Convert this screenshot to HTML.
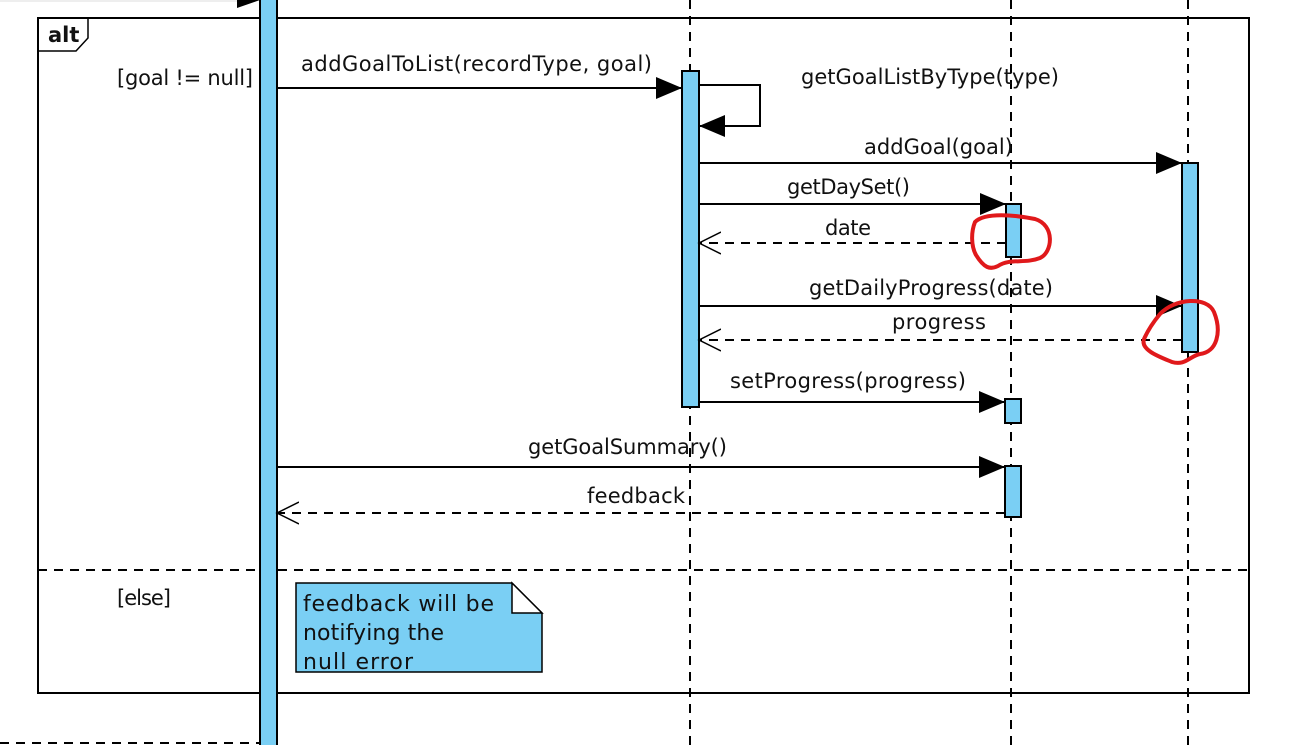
<!DOCTYPE html>
<html><head><meta charset="utf-8"><style>
html,body{margin:0;padding:0;background:#fff;}
svg{display:block;}
text{font-family:"DejaVu Sans","Liberation Sans",sans-serif;font-size:21px;fill:#111;}
</style></head><body>
<svg width="1305" height="745" viewBox="0 0 1305 745" xmlns="http://www.w3.org/2000/svg">
<defs>
<marker id="f" markerWidth="26" markerHeight="22" refX="26" refY="11" orient="auto" markerUnits="userSpaceOnUse"><path d="M0,0 L26,11 L0,22 Z" fill="#000"/></marker>
<marker id="o" markerWidth="24" markerHeight="24" refX="22" refY="12" orient="auto" markerUnits="userSpaceOnUse"><path d="M0,1 L22,12 L0,23" fill="none" stroke="#000" stroke-width="1.5"/></marker>
</defs>
<line x1="0" y1="1" x2="240" y2="1" stroke="#ddd" stroke-width="1"/>
<path d="M237,0 L260,0 L237,8 Z" fill="#000"/>
<g stroke="#000" stroke-width="2" stroke-dasharray="9,7">
<line x1="690" y1="0" x2="690" y2="745"/>
<line x1="1011" y1="0" x2="1011" y2="745"/>
<line x1="1188" y1="0" x2="1188" y2="745"/>
<line x1="0" y1="743" x2="260" y2="743"/>
<line x1="38" y1="570" x2="1249" y2="570"/>
</g>
<rect x="38" y="18" width="1211" height="675" fill="none" stroke="#000" stroke-width="2"/>
<path d="M38,51 L76,51 L88,38 L88,18" fill="none" stroke="#000" stroke-width="1.5"/>
<text x="48" y="42" style="font-weight:bold;font-size:21px">alt</text>
<text x="117" y="85" textLength="136">[goal != null]</text>
<text x="117" y="605" textLength="54">[else]</text>
<rect x="260" y="-2" width="17" height="750" fill="#7acff4" stroke="#000" stroke-width="2"/>
<g fill="#7acff4" stroke="#000" stroke-width="2">
<rect x="682" y="71" width="17" height="336"/>
<rect x="1182" y="163" width="16" height="189"/>
<rect x="1006" y="204" width="15" height="53"/>
<rect x="1005" y="399" width="16" height="24"/>
<rect x="1005" y="466" width="16" height="51"/>
</g>
<g stroke="#000" stroke-width="2" fill="none">
<line x1="277" y1="88" x2="682" y2="88" marker-end="url(#f)"/>
<polyline points="699,85 760,85 760,126 699,126" marker-end="url(#f)"/>
<line x1="699" y1="163" x2="1182" y2="163" marker-end="url(#f)"/>
<line x1="699" y1="204" x2="1006" y2="204" marker-end="url(#f)"/>
<line x1="699" y1="306" x2="1182" y2="306" marker-end="url(#f)"/>
<line x1="699" y1="402" x2="1005" y2="402" marker-end="url(#f)"/>
<line x1="277" y1="467" x2="1005" y2="467" marker-end="url(#f)"/>
<line x1="1006" y1="243" x2="699" y2="243" stroke-dasharray="9,7" marker-end="url(#o)"/>
<line x1="1182" y1="340" x2="699" y2="340" stroke-dasharray="9,7" marker-end="url(#o)"/>
<line x1="1005" y1="513" x2="277" y2="513" stroke-dasharray="9,7" marker-end="url(#o)"/>
</g>
<g>
<text x="301" y="71" textLength="351">addGoalToList(recordType, goal)</text>
<text x="801" y="84" textLength="258">getGoalListByType(type)</text>
<text x="864" y="154" textLength="149">addGoal(goal)</text>
<text x="787" y="194" textLength="123">getDaySet()</text>
<text x="825" y="235" textLength="46">date</text>
<text x="809" y="295" textLength="244">getDailyProgress(date)</text>
<text x="892" y="329" textLength="94">progress</text>
<text x="730" y="388" textLength="236">setProgress(progress)</text>
<text x="528" y="454" textLength="199">getGoalSummary()</text>
<text x="587" y="503" textLength="98">feedback</text>
</g>
<path d="M296,583 L512,583 L542,613 L542,672 L296,672 Z" fill="#7acff4" stroke="#000" stroke-width="1.5"/>
<path d="M512,583 L512,613 L542,613 Z" fill="#fff" stroke="#000" stroke-width="1.5"/>
<text x="303" y="611" style="font-size:22px" textLength="191">feedback will be</text>
<text x="303" y="640" style="font-size:22px" textLength="141">notifying the</text>
<text x="303" y="669" style="font-size:22px" textLength="110">null error</text>
<g fill="none" stroke="#e0191b" stroke-width="4" stroke-linecap="round">
<path d="M975,222 C985,212 1015,215 1035,219 C1055,225 1053,252 1040,258 C1025,264 1010,258 998,266 C990,270 984,268 976,255 C971,246 971,232 975,222 Z"/>
<path d="M1160,314 C1175,298 1207,296 1214,312 C1222,332 1217,352 1200,354 C1190,356 1185,366 1172,362 C1160,357 1140,350 1144,339 C1148,330 1155,320 1160,314"/>
</g>
</svg>
</body></html>
